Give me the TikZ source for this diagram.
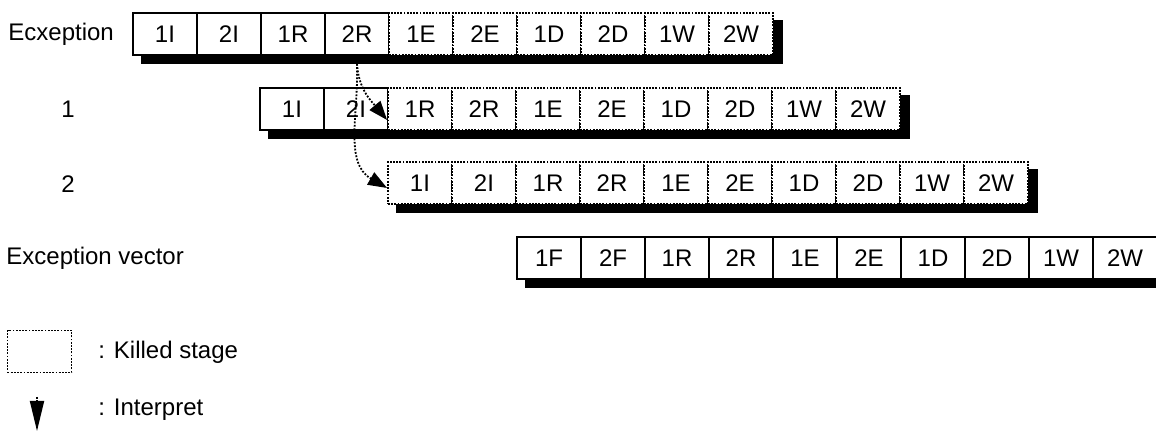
\documentclass[tikz,border=0pt]{standalone}
\usepackage{fontspec}
\setmainfont{Liberation Sans}
\usetikzlibrary{arrows.meta,backgrounds}

\tikzset{
  cell/.style={draw, fill=white, line width=0.75pt, minimum width=32pt,
    minimum height=21pt, inner sep=0pt, font=\fontsize{12}{14}\selectfont},
  killed/.style={cell, line width=0.9pt, dash pattern=on 0.9pt off 0.7pt},
  lbl/.style={inner sep=0pt, font=\fontsize{12}{14}\selectfont},
  interp/.style={line width=0.9pt, dash pattern=on 0.9pt off 0.8pt,
    -{Triangle[length=9.5pt,width=7pt]}},
}

\begin{document}
\begin{tikzpicture}[x=0.5pt,y=-0.5pt]
\useasboundingbox (0,0) rectangle (1156,431);

% row names
\node[lbl,anchor=west] (exc) at (8,34) {Ecxeption};
\node[lbl] (one) at (68,109) {1};
\node[lbl] (two) at (68,184) {2};
\node[lbl,anchor=west] (vec) at (6,258) {Exception vector};

% the four pipelines
\foreach \t/\s [count=\i] in {1I/cell,2I/cell,1R/cell,2R/cell,1E/killed,2E/killed,1D/killed,2D/killed,1W/killed,2W/killed}
  \node[\s] (a\i) at ({101+64*\i},34) {\t};
\foreach \t/\s [count=\i] in {1I/cell,2I/cell,1R/killed,2R/killed,1E/killed,2E/killed,1D/killed,2D/killed,1W/killed,2W/killed}
  \node[\s] (b\i) at ({228+64*\i},109) {\t};
\foreach \t [count=\i] in {1I,2I,1R,2R,1E,2E,1D,2D,1W,2W}
  \node[killed] (c\i) at ({356+64*\i},183) {\t};
\foreach \t [count=\i] in {1F,2F,1R,2R,1E,2E,1D,2D,1W,2W}
  \node[cell] (d\i) at ({485+64*\i},258) {\t};

% shadows
\begin{scope}[on background layer]
  \foreach \r in {a,b,c,d}
    \fill ([shift={(9,8)}]\r1.north west) rectangle ([shift={(9,8)}]\r10.south east);
\end{scope}

% interpret arrows
\coordinate (src) at ([yshift=-4pt]a4.south);
\draw[interp] (src) to[out=-87,in=130] ([yshift=-5.5pt]b3.west);
\draw[interp] (src) to[out=-88,in=150] ([yshift=-2.5pt]c1.west);

% key
\node[killed] (key) at (39.5,351.5) {};
\node[lbl,anchor=west] (keytxt) at (98,352) {: Killed stage};
\coordinate (keytop) at (37,397);
\coordinate (keytip) at (37,431);
\draw[interp,-{Triangle[length=15pt,width=7pt]}] (keytop) -- (keytip);
\node[lbl,anchor=west] (interptxt) at (98,410) {: Interpret};
\end{tikzpicture}
\end{document}
